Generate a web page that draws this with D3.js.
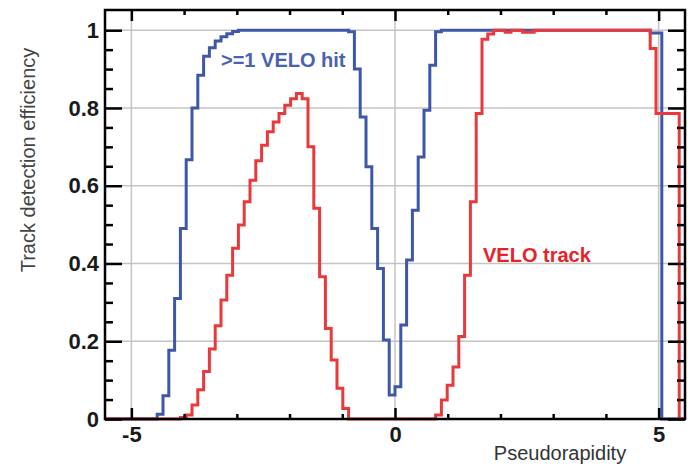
<!DOCTYPE html>
<meta charset="utf-8">
<script src="https://d3js.org/d3.v7.min.js"></script>
<style>
  body { margin: 0; background: #fff; }
  svg text { font-family: "Liberation Sans", Arial, Helvetica, sans-serif; }
</style>
<body>
<div id="chart"></div>
<script>

// histogram binning: 100 bins of 0.11 from -5.5 to 5.5
const etaMin = -5.5, etaMax = 5.5, nBins = 100;

// efficiency per bin, >=1 VELO hit
const veloHit = [
  0, 0, 0, 0, 0, 0, 0, 0, 0,
  0.012, 0.06, 0.177, 0.31, 0.49, 0.667, 0.80, 0.884, 0.933, 0.955, 0.972, 0.983, 0.991, 0.997,
  1, 1, 1, 1, 1, 1, 1, 1, 1, 1, 1, 1, 1, 1, 1, 1, 1, 1, 1,
  0.996, 0.90, 0.777, 0.649, 0.49, 0.387, 0.203, 0.062, 0.083, 0.242, 0.409, 0.537, 0.674, 0.794, 0.91, 0.996,
  1, 1, 1, 1, 1, 1, 1, 1, 1, 1, 1, 1, 1, 1, 1, 1, 1, 1,
  1, 1, 1, 1, 1, 1, 1, 1, 1, 1, 1, 1, 1, 1, 1, 1, 1, 1,
  0.993, 0.993,
  0, 0, 0, 0
];

// efficiency per bin, VELO track
const veloTrack = [
  0, 0, 0, 0, 0, 0, 0, 0, 0, 0, 0, 0, 0, 0.004,
  0.01, 0.036, 0.075, 0.122, 0.18, 0.24, 0.306, 0.37, 0.439, 0.499, 0.559, 0.614, 0.664, 0.704,
  0.739, 0.764, 0.786, 0.807, 0.824, 0.837, 0.824, 0.70, 0.542, 0.366, 0.233, 0.152, 0.079, 0.027,
  0, 0, 0, 0, 0, 0, 0, 0, 0, 0, 0, 0, 0, 0, 0,
  0.01, 0.049, 0.087, 0.134, 0.212, 0.37, 0.559, 0.786, 0.977, 0.99,
  1, 1, 0.995, 1, 1, 0.995, 0.995, 1, 1, 1, 1, 1, 1, 1,
  1, 1, 1, 1, 1, 1, 1, 1, 1, 1, 1, 1, 1,
  0.953,
  0.786, 0.786, 0.786, 0.786,
  0
];

const xMajor = [-5, 0, 5];
const xMinor = [-4, -3, -2, -1, 1, 2, 3, 4];
const yMajor = [0, 0.2, 0.4, 0.6, 0.8, 1];
const yMinor = d3.range(0.05, 1.01, 0.05).filter(v => Math.abs(v * 5 - Math.round(v * 5)) > 1e-6);

const blue = "#3f57a8", red = "#e8393c";

const margin = {top: 10, right: 3, bottom: 46, left: 105},
    width = 688 - margin.left - margin.right,
    height = 465 - margin.top - margin.bottom;

const svg = d3.select("#chart")
  .append("svg")
    .attr("width", 688)
    .attr("height", 465)
  .append("g")
    .attr("transform", `translate(${margin.left}, ${margin.top})`);

const x = d3.scaleLinear().domain([etaMin, etaMax]).range([0, width]);
const y = d3.scaleLinear().domain([0, 1.052]).range([height, 0]);

// grid
svg.append("g")
  .selectAll("line.gx")
  .data(xMajor)
  .join("line")
    .attr("x1", d => x(d)).attr("x2", d => x(d))
    .attr("y1", 0).attr("y2", height)
    .attr("stroke", "#c4c4c4").attr("stroke-width", 1.5);
svg.append("g")
  .selectAll("line.gy")
  .data(yMajor.slice(1))
  .join("line")
    .attr("x1", 0).attr("x2", width)
    .attr("y1", d => y(d)).attr("y2", d => y(d))
    .attr("stroke", "#c4c4c4").attr("stroke-width", 1.5);

// histogram outlines
const binW = (etaMax - etaMin) / nBins;
function steps(vals) {
  const pts = vals.map((v, i) => [etaMin + i * binW, v]);
  pts.push([etaMax, vals[vals.length - 1]]);
  return pts;
}
const line = d3.line()
  .x(d => x(d[0]))
  .y(d => y(d[1]))
  .curve(d3.curveStepAfter);

svg.append("path")
  .datum(steps(veloHit))
  .attr("fill", "none")
  .attr("stroke", blue)
  .attr("stroke-width", 3)
  .attr("d", line);

svg.append("path")
  .datum(steps(veloTrack))
  .attr("fill", "none")
  .attr("stroke", red)
  .attr("stroke-width", 3)
  .attr("d", line);

// axes with inward ticks
function styleAxis(g) {
  g.select(".domain").remove();
  g.selectAll(".tick line").attr("stroke", "#000").attr("stroke-width", 2.5);
  g.selectAll("text")
    .attr("fill", "#1a1a1a")
    .attr("font-size", 22)
    .attr("font-weight", "bold");
}

svg.append("g")
  .attr("transform", `translate(0, ${height})`)
  .call(d3.axisBottom(x).tickValues(xMajor).tickSize(-11).tickPadding(7).tickFormat(d => String(d)))
  .call(styleAxis);
svg.append("g")
  .attr("transform", `translate(0, ${height})`)
  .call(d3.axisBottom(x).tickValues(xMinor).tickSize(-5).tickFormat(""))
  .call(styleAxis);
svg.append("g")
  .call(d3.axisTop(x).tickValues(xMajor).tickSize(-11).tickFormat(""))
  .call(styleAxis);
svg.append("g")
  .call(d3.axisTop(x).tickValues(xMinor).tickSize(-5).tickFormat(""))
  .call(styleAxis);

svg.append("g")
  .call(d3.axisLeft(y).tickValues(yMajor).tickSize(-17).tickPadding(6).tickFormat(d => String(d)))
  .call(styleAxis);
svg.append("g")
  .call(d3.axisLeft(y).tickValues(yMinor).tickSize(-8).tickFormat(""))
  .call(styleAxis);
svg.append("g")
  .attr("transform", `translate(${width}, 0)`)
  .call(d3.axisRight(y).tickValues(yMajor).tickSize(-17).tickFormat(""))
  .call(styleAxis);
svg.append("g")
  .attr("transform", `translate(${width}, 0)`)
  .call(d3.axisRight(y).tickValues(yMinor).tickSize(-8).tickFormat(""))
  .call(styleAxis);

// frame
svg.append("rect")
  .attr("width", width)
  .attr("height", height)
  .attr("fill", "none")
  .attr("stroke", "#000")
  .attr("stroke-width", 2.5);

// labels
svg.append("text")
  .attr("transform", `translate(${28 - margin.left}, ${160 - margin.top}) rotate(-90)`)
  .attr("text-anchor", "middle")
  .attr("dy", "0.35em")
  .attr("font-size", 20)
  .attr("fill", "#444")
  .text("Track detection efficiency");

svg.append("text")
  .attr("x", 560 - margin.left)
  .attr("y", 460 - margin.top)
  .attr("text-anchor", "middle")
  .attr("font-size", 20)
  .attr("fill", "#333")
  .text("Pseudorapidity");

svg.append("text")
  .attr("x", 221 - margin.left)
  .attr("y", 67 - margin.top)
  .attr("font-size", 20)
  .attr("font-weight", "bold")
  .attr("fill", "#4a62b2")
  .text(">=1 VELO hit");

svg.append("text")
  .attr("x", 483 - margin.left)
  .attr("y", 262 - margin.top)
  .attr("font-size", 20)
  .attr("font-weight", "bold")
  .attr("fill", "#e8222b")
  .text("VELO track");

</script>
</body>
